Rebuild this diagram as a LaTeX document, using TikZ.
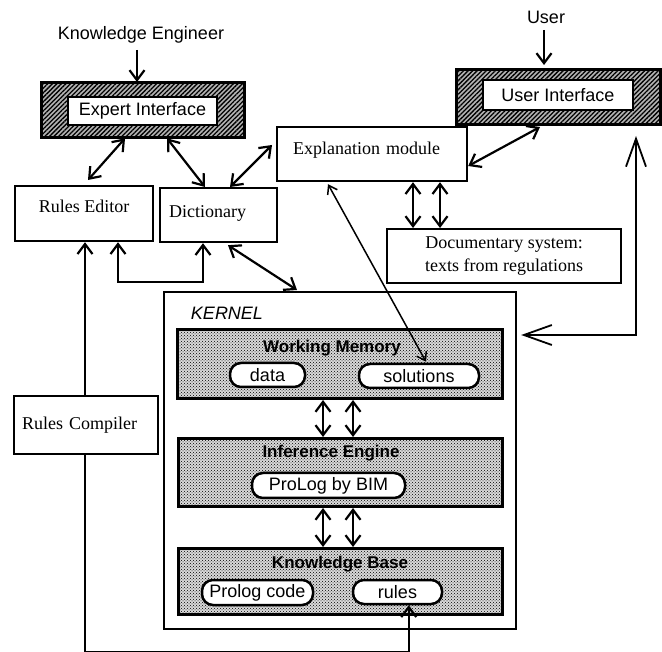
\documentclass[tikz,border=0pt]{standalone}
\usepackage{fontspec}
\setmainfont{Liberation Serif}
\setsansfont{Liberation Sans}
\usetikzlibrary{arrows.meta,patterns,patterns.meta,calc}
\begin{document}
\begin{tikzpicture}[x=1pt,y=-1pt,
  sanslabel/.style={font=\sffamily\fontsize{18}{21}\selectfont, inner sep=0pt},
  titlelabel/.style={font=\sffamily\bfseries\fontsize{17}{20}\selectfont, inner sep=0pt},
  plainbox/.style={draw, line width=2.2pt, rectangle, inner ysep=0pt, text height=13pt,
    font=\rmfamily\fontsize{18}{23}\selectfont},
  hatchbox/.style={draw, line width=3pt, preaction={fill=black!30},
    pattern={Lines[angle=45,distance=3.2pt,line width=1.3pt]}, pattern color=black},
  innerbox/.style={draw, line width=2pt, fill=white, font=\sffamily\fontsize{18}{21}\selectfont, inner sep=0pt},
  dotbox/.style={draw, line width=3pt, preaction={fill=black!15}, pattern=crosshatch dots, pattern color=black},
  pill/.style={draw, line width=2.5pt, fill=white, rounded corners=11pt, font=\sffamily\fontsize{18}{21}\selectfont, inner sep=0pt},
  conn/.style={line width=2.2pt},
  dbl/.style={conn, {Straight Barb[length=10pt,width=15pt]}-{Straight Barb[length=10pt,width=15pt]}},
  sgl/.style={conn, -{Straight Barb[length=10pt,width=15pt]}},
  thindbl/.style={line width=1.5pt, {Straight Barb[length=8pt,width=11pt]}-{Straight Barb[length=8pt,width=11pt]}},
  bigdbl/.style={line width=1.8pt, {Straight Barb[length=28pt,width=20pt]}-{Straight Barb[length=28pt,width=20pt]}}
]
\useasboundingbox (0,0) rectangle (662,652);

% top labels
\node[sanslabel] (ke) at (141,35) {Knowledge Engineer};
\node[sanslabel] (user) at (546,17) {User};

% interfaces
\node[hatchbox, minimum width=203pt, minimum height=55pt, anchor=north west] (eio) at (41,82) {};
\node[innerbox, minimum width=149pt, minimum height=28pt] (ei) at (142.5,111) {Expert Interface};
\node[hatchbox, minimum width=204pt, minimum height=55pt, anchor=north west] (uio) at (455,68) {};
\node[innerbox, minimum width=150pt, minimum height=30pt] (ui) at (558,95) {User Interface};

% plain boxes
\node[plainbox, minimum width=138pt, minimum height=55pt, text depth=15pt, align=center, anchor=north west] (re) at (14,185) {Rules Editor};
\node[plainbox, minimum height=54pt, inner xsep=9pt, text width=99pt, text depth=8pt, align=left, anchor=north west] (dict) at (159,187) {Dictionary};
\node[plainbox, minimum height=54pt, inner xsep=16pt, text width=158pt, text depth=12pt, align=left, anchor=north west] (expl) at (276,126) {Explanation module};
\node[draw, line width=2.2pt, minimum width=234pt, minimum height=54pt, align=center, inner sep=0pt,
  font=\rmfamily\fontsize{18}{23}\selectfont, anchor=north west] (doc) at (386,228) {Documentary system:\\texts from regulations};
\node[plainbox, minimum height=58pt, inner xsep=8pt, text width=128pt, text depth=4pt, align=left, anchor=north west] (rc) at (13,395) {Rules Compiler};

% kernel
\node[draw, line width=2.2pt, minimum width=352pt, minimum height=337pt, anchor=north west] (kern) at (163,291) {};
\node[font=\sffamily\itshape\fontsize{18}{21}\selectfont, inner sep=0pt] (kerntitle) at (227,313) {KERNEL};

\node[dotbox, minimum width=325pt, minimum height=69pt, anchor=north west] (wm) at (176,328) {};
\node[dotbox, minimum width=324pt, minimum height=68pt, anchor=north west] (ie) at (177,437) {};
\node[dotbox, minimum width=324pt, minimum height=66pt, anchor=north west] (kb) at (177,547) {};

\node[titlelabel] (wmtitle) at (332,348) {Working Memory};
\node[titlelabel] (ietitle) at (331,453) {Inference Engine};
\node[titlelabel] (kbtitle) at (340,564) {Knowledge Base};

\node[pill, minimum width=75pt, minimum height=24pt] (data) at (267.5,375) {data};
\node[pill, minimum width=120pt, minimum height=24pt] (sol) at (419,376) {solutions};
\node[pill, minimum width=153pt, minimum height=25pt] (prolog) at (328.5,485.5) {ProLog by BIM};
\node[pill, minimum width=111pt, minimum height=25pt] (pcode) at (257.5,592.5) {Prolog code};
\node[pill, minimum width=89pt, minimum height=24pt] (rules) at (397.5,592) {rules};

% connectors
\draw[sgl] ($(eio.north west)+(96,-32)$) -- ($(eio.north west)+(96,0)$);
\draw[sgl] ($(uio.north west)+(89,-38)$) -- ($(uio.north west)+(89,-3)$);

\draw[dbl] ($(eio.south west)+(84,0)$) -- ($(re.north west)+(74,-5)$);
\draw[dbl] ($(eio.south west)+(126,0)$) -- ($(dict.north west)+(46,0)$);
\draw[dbl] ($(dict.north west)+(71,0)$) -- ($(expl.north west)+(-4,19)$);
\draw[dbl] ($(expl.north east)+(0,40)$) -- ($(uio.south west)+(85,1)$);

\coordinate (d1) at ($(doc.north west)+(27,0)$);
\coordinate (d2) at ($(doc.north west)+(54,0)$);
\draw[dbl] (d1) -- (d1 |- expl.south);
\draw[dbl] (d2) -- (d2 |- expl.south);

\draw[thindbl] ($(expl.south west)+(52,2)$) -- ($(sol.north)+(7,-1)$);

\draw[bigdbl] ($(kern.north east)+(4,44)$) -| ($(uio.south west)+(181,10)$);

\draw[dbl] ($(dict.south west)+(69,2)$) -- ($(kern.north west)+(134,-1)$);

\coordinate (reb) at ($(re.south west)+(104,0)$);
\coordinate (dib) at ($(dict.south west)+(44,0)$);
\draw[dbl] (reb) -- ++(0,40) -| (dib);

\coordinate (rct) at ($(rc.north west)+(72,0)$);
\draw[sgl] (rct) -- (rct |- re.south);
\coordinate (rcb) at ($(rc.south west)+(72,0)$);
\draw[sgl] (rcb) -- ++(0,197) -| ($(rules.south west)+(57,0)$);

\coordinate (w1) at ($(wm.south west)+(147,0)$);
\coordinate (w2) at ($(wm.south west)+(177,0)$);
\draw[dbl] (w1) -- (w1 |- ie.north);
\draw[dbl] (w2) -- (w2 |- ie.north);
\coordinate (i1) at ($(ie.south west)+(146,0)$);
\coordinate (i2) at ($(ie.south west)+(176,0)$);
\draw[dbl] (i1) -- (i1 |- kb.north);
\draw[dbl] (i2) -- (i2 |- kb.north);
\end{tikzpicture}
\end{document}
